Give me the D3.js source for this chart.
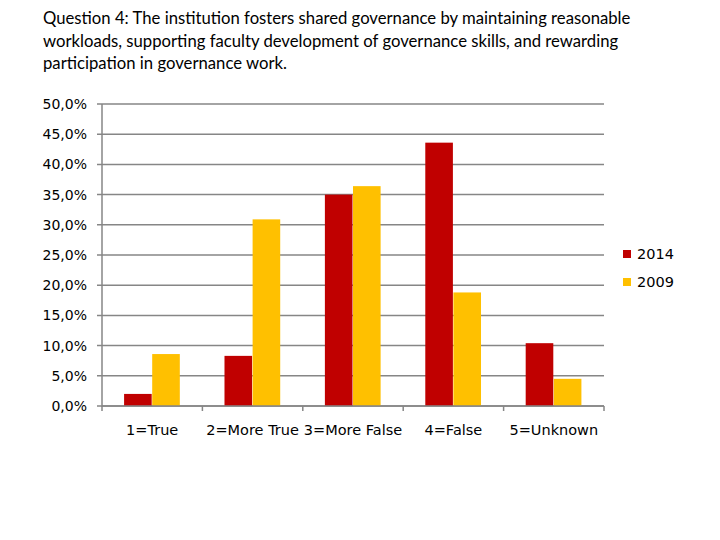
<!DOCTYPE html>
<html><head><meta charset="utf-8">
<script src="https://cdn.jsdelivr.net/npm/d3@7"></script>
<style>body{margin:0;background:#fff}</style>
</head><body>
<script>
const categories = ["1=True","2=More True","3=More False","4=False","5=Unknown"];
const series = ["2014","2009"];
const values2014 = [2.0, 8.3, 35.0, 43.6, 10.4];
const values2009 = [8.6, 30.9, 36.4, 18.8, 4.5];
const yTicks = [0,5,10,15,20,25,30,35,40,45,50];
const titleLines = ["Question 4: The institution fosters shared governance by maintaining reasonable",
  "workloads, supporting faculty development of governance skills, and rewarding",
  "participation in governance work."];
const colors = ["#C00000","#FFC000"];

const svg = d3.select("body").append("svg").attr("width",720).attr("height",540);
const pL=102, pR=604, pT=104, pB=406;
const x = d3.scaleBand().domain(categories).range([pL,pR]).paddingInner(0.44).paddingOuter(0.22);
const xs = d3.scaleBand().domain(series).range([0,x.bandwidth()]);
const y = d3.scaleLinear().domain([0,50]).range([pB,pT]);

// title
svg.append("g").selectAll("text").data(titleLines).join("text")
  .attr("x",43).attr("y",(d,i)=>24+i*22.5)
  .attr("font-family","Lato").attr("font-size",16.7).attr("fill","#000")
  .text(d=>d);

// grid
svg.append("g").selectAll("line").data(yTicks).join("line")
  .attr("x1",pL-5).attr("x2",pR).attr("y1",d=>y(d)).attr("y2",d=>y(d))
  .attr("stroke","#868686").attr("stroke-width",1.5);
svg.append("line").attr("x1",pL).attr("x2",pL).attr("y1",pT).attr("y2",pB+0.75)
  .attr("stroke","#868686").attr("stroke-width",1.5);
// y labels
svg.append("g").selectAll("text").data(yTicks).join("text")
  .attr("x",87).attr("y",d=>y(d)+5).attr("text-anchor","end")
  .attr("font-family","DejaVu Sans").attr("font-size",14).attr("fill","#000")
  .text(d=>d3.format(".1f")(d).replace(".",",")+"%");

// bars
const data = categories.map((c,i)=>({c, v:[values2014[i],values2009[i]]}));
const g = svg.append("g").selectAll("g").data(data).join("g").attr("transform",d=>`translate(${x(d.c)},0)`);
g.selectAll("rect").data(d=>d.v.map((v,j)=>({s:series[j],v,j}))).join("rect")
  .attr("x",d=>xs(d.s)).attr("width",xs.bandwidth()-0.5)
  .attr("y",d=>y(d.v)).attr("height",d=>pB-y(d.v))
  .attr("fill",d=>colors[d.j]);

// x axis line and ticks
const bounds = d3.range(categories.length+1).map(i=>pL+i*(pR-pL)/categories.length);
svg.append("line").attr("x1",pL).attr("x2",pR).attr("y1",pB).attr("y2",pB)
  .attr("stroke","#868686").attr("stroke-width",1.5);
svg.append("g").selectAll("line").data(bounds).join("line")
  .attr("x1",d=>d).attr("x2",d=>d).attr("y1",pB).attr("y2",pB+5)
  .attr("stroke","#868686").attr("stroke-width",1.5);
svg.append("g").selectAll("text").data(categories).join("text")
  .attr("x",d=>x(d)+x.bandwidth()/2).attr("y",435).attr("text-anchor","middle")
  .attr("font-family","DejaVu Sans").attr("font-size",14.5).attr("fill","#000")
  .text(d=>d);

// legend
const lg = svg.append("g").selectAll("g").data(series).join("g")
  .attr("transform",(d,i)=>`translate(623,${250+i*28})`);
lg.append("rect").attr("width",8).attr("height",8).attr("fill",(d,i)=>colors[i]);
lg.append("text").attr("x",14).attr("y",9).attr("font-family","DejaVu Sans").attr("font-size",14.5).text(d=>d);
</script>
</body></html>
